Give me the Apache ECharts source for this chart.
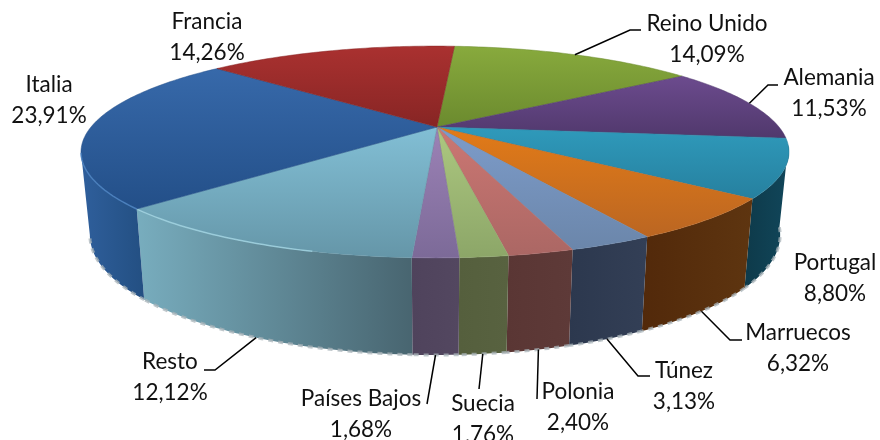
<!DOCTYPE html>
<html>
<head>
<meta charset="utf-8">
<style>html,body{margin:0;background:#fff}#chart1{width:880px;height:440px}</style>
<script src="https://cdn.jsdelivr.net/npm/echarts@6/dist/echarts.min.js"></script>
</head>
<body>
<div id="chart1"></div>
<script>
// valores, en sentido horario desde Reino Unido
var categories = ['Reino Unido', 'Alemania', 'Portugal', 'Marruecos', 'Túnez', 'Polonia', 'Suecia', 'Países Bajos', 'Resto', 'Italia', 'Francia'];
var shares = [14.09, 11.53, 8.80, 6.32, 3.13, 2.40, 1.76, 1.68, 12.12, 23.91, 14.26];

// colores: tapa (arriba, abajo) y pared (izq, der)
var topColors = [
    ['#88aa3d', '#6b8a2e'], ['#6c4b8e', '#50386c'], ['#2f9abb', '#26809f'], ['#e27b18', '#bb6622'],
    ['#7d9cca', '#6b86aa'], ['#cc7773', '#ab6764'], ['#adc880', '#8ca668'], ['#9c82b6', '#7c6a98'],
    ['#82bfd5', '#6596a8'], ['#3769aa', '#234f88'], ['#aa3130', '#872524']
];
var wallColors = [
    null, null, ['#0e3a4a', '#11465a'], ['#52290a', '#5e3510'],
    ['#2c384e', '#333f56'], ['#5a3634', '#5e3a38'], ['#555f3d', '#586240'], ['#4f435c', '#534760'],
    ['#78adbe', '#486570'], ['#2f5f9c', '#234f82'], null
];

// posicion de etiquetas y guias
var labelPos = [[707, 24], [829, 78], [835, 263], [798, 333], [684, 371], [578, 392], [483, 404], [361, 399], [170, 362], [49, 85], [207, 22]];
var leaders = [
    [[630, 30], [641, 30]], [[768, 85], [778, 85]], null, [[730, 340], [742, 340]],
    [[638, 376], [650, 376]], [[537, 399]], [[479, 389]], [[427, 404]], [[215, 370], [204, 370]], null, null
];

var startDeg = 4;
var cumul = [];
shares.reduce(function (sum, v, i) { cumul[i] = sum; return sum + v; }, 0);

function rimPoint(deg) {
    var a = deg * Math.PI / 180;
    var u = Math.sin(a), v = Math.cos(a);
    var w = 1 + 0.236 * v;
    return [435 + 344 * u / w, 127 - 100 * v / w];
}
function floorPoint(deg) {
    var a = deg * Math.PI / 180;
    var u = Math.sin(a), v = Math.cos(a);
    var w = 1 + 0.236 * v;
    return [435 + 0.975 * 344 * u / w, 206.7 - 113.3 * v / w];
}
function sliceAngles(i) {
    return [startDeg + cumul[i] * 3.6, startDeg + (cumul[i] + shares[i]) * 3.6];
}
function arc(fn, a, b) {
    var pts = [];
    for (var d = a; d < b; d += 1) pts.push(fn(d));
    pts.push(fn(b));
    return pts;
}
function vGrad(c) {
    return new echarts.graphic.LinearGradient(0, 0, 0, 1, [{ offset: 0, color: c[0] }, { offset: 1, color: c[1] }]);
}
function hGrad(c) {
    return new echarts.graphic.LinearGradient(0, 0, 1, 0, [{ offset: 0, color: c[0] }, { offset: 1, color: c[1] }]);
}

function renderWall(params) {
    var i = params.dataIndex;
    if (!wallColors[i]) return { type: 'group', children: [] };
    var ang = sliceAngles(i);
    var a = Math.max(ang[0], 100), b = Math.min(ang[1], 256.4);
    var edge = arc(floorPoint, a, b);
    return {
        type: 'group',
        children: [{
            type: 'polygon',
            shape: { points: arc(rimPoint, a, b).concat(edge.slice().reverse()) },
            style: { fill: hGrad(wallColors[i]) }
        }, {
            type: 'polyline',
            shape: { points: edge },
            style: { fill: null, stroke: 'rgba(170,180,185,0.75)', lineWidth: 3, lineDash: [5, 5] }
        }]
    };
}

function renderTop(params) {
    var i = params.dataIndex;
    var ang = sliceAngles(i);
    var rim = arc(rimPoint, ang[0], ang[1]);
    var children = [{
        type: 'polygon',
        shape: { points: [[437, 127]].concat(rim) },
        style: { fill: vGrad(topColors[i]), stroke: topColors[i][1], lineWidth: 0.5 }
    }];
    // brillo del borde en Resto e Italia
    if (categories[i] === 'Resto') {
        children.push({
            type: 'polyline',
            shape: { points: arc(rimPoint, 196, ang[1]) },
            style: { fill: null, stroke: '#a4d6e4', lineWidth: 1.5, opacity: 0.8 }
        });
    }
    if (categories[i] === 'Italia') {
        children.push({
            type: 'polyline',
            shape: { points: arc(rimPoint, ang[0], 256) },
            style: { fill: null, stroke: '#4f86c4', lineWidth: 1.5, opacity: 0.8 }
        });
    }
    return { type: 'group', children: children };
}

function renderLabel(params) {
    var i = params.dataIndex;
    var ang = sliceAngles(i);
    var mid = (ang[0] + ang[1]) / 2;
    var children = [{
        type: 'text',
        style: {
            x: labelPos[i][0], y: labelPos[i][1],
            text: categories[i], fill: '#111', font: '22.5px Lato, Carlito, sans-serif',
            align: 'center', verticalAlign: 'middle'
        }
    }, {
        type: 'text',
        style: {
            x: labelPos[i][0], y: labelPos[i][1] + 30.5,
            text: shares[i].toFixed(2).replace('.', ',') + '%', fill: '#111', font: '22.5px Lato, Carlito, sans-serif',
            align: 'center', verticalAlign: 'middle'
        }
    }];
    if (leaders[i]) {
        var from = mid < 90 ? rimPoint(mid) : floorPoint(mid);
        children.push({
            type: 'polyline',
            shape: { points: [from].concat(leaders[i]) },
            style: { fill: null, stroke: '#000', lineWidth: 1.5 }
        });
    }
    return { type: 'group', children: children };
}

var chart = echarts.init(document.getElementById('chart1'));
chart.setOption({
    animation: false,
    series: [
        { type: 'custom', coordinateSystem: 'none', silent: true, data: shares, renderItem: renderWall, z: 1 },
        { type: 'custom', coordinateSystem: 'none', silent: true, data: shares, renderItem: renderTop, z: 2 },
        { type: 'custom', coordinateSystem: 'none', silent: true, data: shares, renderItem: renderLabel, z: 3 }
    ]
});
</script>
</body>
</html>
